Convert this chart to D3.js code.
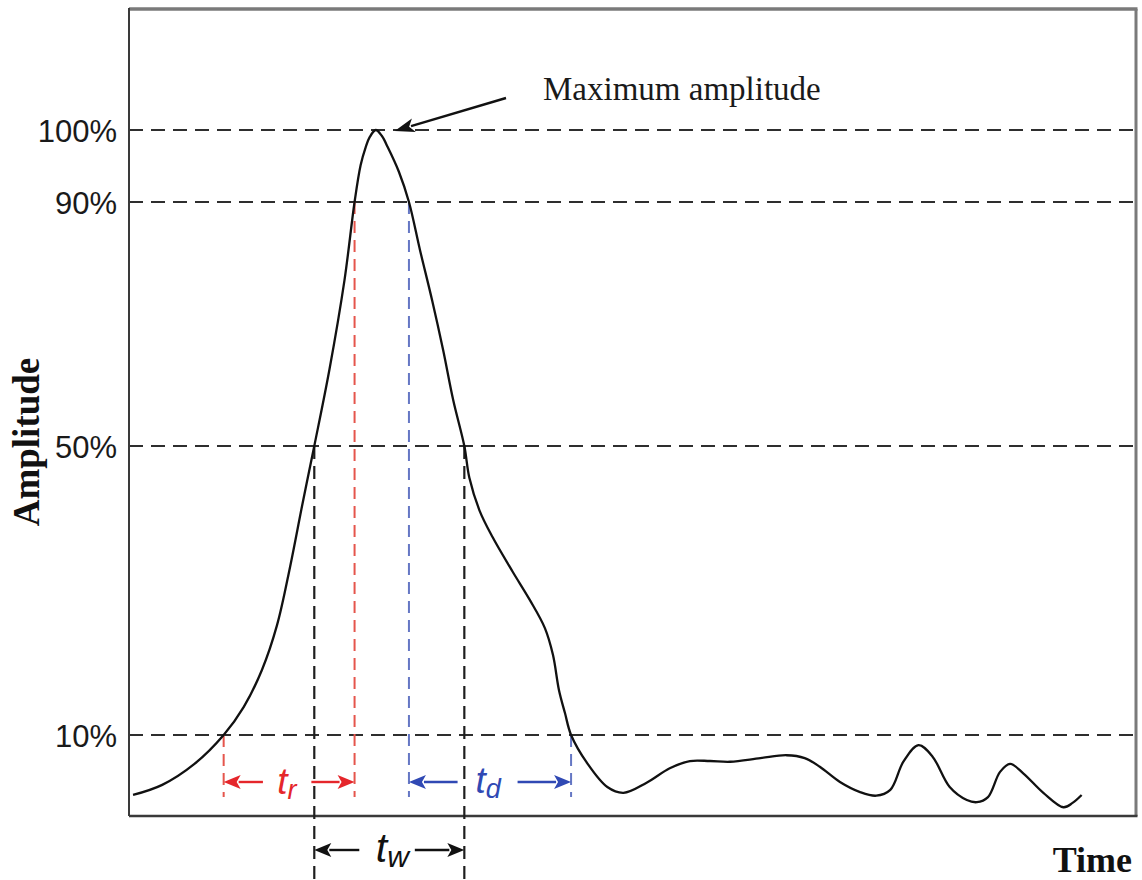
<!DOCTYPE html>
<html>
<head>
<meta charset="utf-8">
<script src="https://cdn.jsdelivr.net/npm/d3@7"></script>
<style>
  html, body { margin: 0; padding: 0; background: #ffffff; }
  svg { display: block; }
</style>
</head>
<body>
<div id="chart"></div>
<script>
// Pulse waveform: time (arbitrary units) and amplitude (% of maximum)
const time = [
  0.4, 3.3, 6.5, 9.4, 11.4, 13.2, 14.7, 16.0, 17.2, 18.4,
  19.9, 21.4, 22.4, 23.0, 23.5, 23.9, 24.5, 25.1, 25.7, 26.8,
  27.8, 28.9, 30.1, 31.2, 32.2, 33.3, 33.8, 34.8, 36.1, 38.1,
  39.8, 41.3, 42.1, 42.7, 43.3, 43.9, 45.5, 47.5, 49.1, 51.4,
  53.7, 55.7, 57.7, 59.7, 62.7, 65.3, 67.1, 68.6, 70.6, 72.6,
  74.2, 75.6, 76.9, 78.4, 79.8, 81.5, 83.2, 84.2, 85.3, 86.5,
  87.5, 88.8, 90.8, 92.8, 93.7, 94.6
];
const amplitude = [
  1.7, 3.1, 6.0, 10, 13.9, 19.0, 25.2, 33.3, 41.8, 50,
  62.5, 77.2, 90, 95.1, 97.6, 99.0, 100, 99.2, 97.6, 94.2,
  90, 82.1, 73.9, 65.7, 57.5, 50, 45.6, 41.1, 37.4, 32.6,
  28.7, 24.8, 21.1, 16.2, 13.0, 10, 6.1, 2.8, 2.0, 3.4,
  5.4, 6.4, 6.4, 6.3, 6.8, 7.2, 6.8, 5.6, 3.5, 2.1,
  1.6, 2.4, 6.3, 8.6, 7.0, 2.8, 1.0, 0.7, 1.4, 4.9,
  6.0, 4.7, 2.0, 0.0, 0.6, 1.7
];

// Reference levels drawn as dashed guides
const levels = [100, 90, 50, 10];
const levelLabels = ["100%", "90%", "50%", "10%"];

// Levels that define rise time, decay time and pulse width
const riseLevels = [10, 90];
const decayLevels = [90, 10];
const widthLevel = 50;

const W = 1142, H = 880;
const frame = { left: 129, right: 1136, top: 9, bottom: 816 };

const svg = d3.select("#chart").append("svg")
  .attr("width", W).attr("height", H);

const x = d3.scaleLinear().domain([0, 100]).range([frame.left, frame.right]);
// The amplitude axis of this schematic is not evenly spaced between the marked levels
const y = d3.scaleLinear().domain([10, 50, 90, 100]).range([735, 446, 202, 130]);

const pts = time.map((t, i) => ({ t, a: amplitude[i] }));

// Time where the waveform crosses a level on its rising or falling edge
function crossTime(level, rising) {
  for (let i = 0; i < pts.length - 1; i++) {
    const p0 = pts[i], p1 = pts[i + 1];
    if (rising && p0.a <= level && p1.a >= level && p1.a > p0.a)
      return p0.t + (level - p0.a) / (p1.a - p0.a) * (p1.t - p0.t);
    if (!rising && p0.a >= level && p1.a <= level && p0.a > p1.a)
      return p0.t + (p0.a - level) / (p0.a - p1.a) * (p1.t - p0.t);
  }
  return null;
}

const sans = "'Liberation Sans', Arial, Helvetica, sans-serif";
const serif = "'Liberation Serif', 'Times New Roman', Times, serif";
const red = "#e5262b", redLight = "#e5554c";
const blue = "#3049b4", blueLight = "#6577c4";

// Dashed level guides
svg.append("g").selectAll("line").data(levels).join("line")
  .attr("x1", frame.left).attr("x2", frame.right)
  .attr("y1", d => y(d)).attr("y2", d => y(d))
  .attr("stroke", "#2e2e2e").attr("stroke-width", 2.2)
  .attr("stroke-dasharray", "14,8");

// Level labels
const yAxis = d3.axisLeft(y).tickValues(levels)
  .tickFormat(d => levelLabels[levels.indexOf(d)])
  .tickSize(0).tickPadding(12);
const ag = svg.append("g").attr("transform", `translate(${frame.left},0)`).call(yAxis);
ag.select(".domain").remove();
ag.selectAll("text")
  .attr("font-family", sans).attr("font-size", 31).attr("fill", "#1a1a1a")
  .attr("dy", "0.36em");

// Frame
svg.append("line").attr("x1", frame.left).attr("x2", frame.right + 1.5)
  .attr("y1", frame.top).attr("y2", frame.top)
  .attr("stroke", "#7a7a7a").attr("stroke-width", 3.5);
svg.append("line").attr("x1", frame.right).attr("x2", frame.right)
  .attr("y1", frame.top).attr("y2", frame.bottom)
  .attr("stroke", "#7a7a7a").attr("stroke-width", 3);
svg.append("line").attr("x1", frame.left).attr("x2", frame.left)
  .attr("y1", frame.top - 1).attr("y2", frame.bottom)
  .attr("stroke", "#3a3a3a").attr("stroke-width", 2);
svg.append("line").attr("x1", frame.left).attr("x2", frame.right + 1.5)
  .attr("y1", frame.bottom).attr("y2", frame.bottom)
  .attr("stroke", "#3a3a3a").attr("stroke-width", 2.4);

// Crossing times
const tr0 = crossTime(riseLevels[0], true), tr1 = crossTime(riseLevels[1], true);
const td0 = crossTime(decayLevels[0], false), td1 = crossTime(decayLevels[1], false);
const tw0 = crossTime(widthLevel, true), tw1 = crossTime(widthLevel, false);

const markRowY = 782, markEndY = 797, widthRowY = 850;

function vDash(t, level, yEnd, color, sw, dash) {
  svg.append("line")
    .attr("x1", x(t)).attr("x2", x(t))
    .attr("y1", y(level)).attr("y2", yEnd)
    .attr("stroke", color).attr("stroke-width", sw)
    .attr("stroke-dasharray", dash);
}

// Vertical drop lines
vDash(tw0, widthLevel, H, "#1e1e1e", 2.2, "13,7");
vDash(tw1, widthLevel, H, "#1e1e1e", 2.2, "13,7");
vDash(tr0, riseLevels[0], markEndY, redLight, 2, "12,7");
vDash(tr1, riseLevels[1], markEndY, redLight, 2, "12,7");
vDash(td0, decayLevels[0], markEndY, blueLight, 2, "12,7");
vDash(td1, decayLevels[1], markEndY, blueLight, 2, "12,7");

// Horizontal arrow from tail to tip with a filled head
function hArrow(xTail, xTip, yy, color) {
  const dir = xTip > xTail ? 1 : -1;
  const len = 17, half = 7;
  svg.append("line")
    .attr("x1", xTail).attr("x2", xTip - dir * (len - 2))
    .attr("y1", yy).attr("y2", yy)
    .attr("stroke", color).attr("stroke-width", 2.4);
  svg.append("path")
    .attr("d", `M${xTip},${yy} L${xTip - dir * len},${yy - half} L${xTip - dir * (len - 4)},${yy} L${xTip - dir * len},${yy + half} Z`)
    .attr("fill", color);
}

// Interval marker: two arrows pointing outward with a subscripted label between
function interval(t0, t1, yy, color, base, sub, size, subSize, dyText) {
  const x0 = x(t0), x1 = x(t1), span = x1 - x0;
  hArrow(x0 + 0.30 * span, x0, yy, color);
  hArrow(x0 + 0.67 * span, x1, yy, color);
  const txt = svg.append("text")
    .attr("x", x0 + 0.41 * span).attr("y", yy + dyText)
    .attr("font-family", sans).attr("font-style", "italic")
    .attr("font-size", size).attr("fill", color);
  txt.append("tspan").text(base);
  txt.append("tspan").attr("font-size", subSize).attr("dy", 5).text(sub);
}

interval(tr0, tr1, markRowY, red, "t", "r", 37, 27, 12);
interval(td0, td1, markRowY, blue, "t", "d", 37, 27, 11);
interval(tw0, tw1, widthRowY, "#111111", "t", "w", 41, 30, 12);

// Waveform
const line = d3.line()
  .x(d => x(d.t)).y(d => y(d.a))
  .curve(d3.curveCatmullRom.alpha(0.5));
svg.append("path").datum(pts)
  .attr("d", line)
  .attr("fill", "none").attr("stroke", "#111111").attr("stroke-width", 2.3);

// Maximum amplitude callout
const peak = pts.reduce((m, p) => p.a > m.a ? p : m, pts[0]);
const tipX = x(peak.t) + 19, tipY = y(peak.a) + 1;
const tailX = 506, tailY = 98;
{
  const dx = tipX - tailX, dy = tipY - tailY, L = Math.hypot(dx, dy);
  const ux = dx / L, uy = dy / L, px = -uy, py = ux;
  const len = 20, half = 7;
  const bx = tipX - ux * len, by = tipY - uy * len;
  svg.append("line")
    .attr("x1", tailX).attr("y1", tailY)
    .attr("x2", tipX - ux * (len - 3)).attr("y2", tipY - uy * (len - 3))
    .attr("stroke", "#111").attr("stroke-width", 2.4);
  svg.append("path")
    .attr("d", `M${tipX},${tipY} L${bx + px * half},${by + py * half} L${tipX - ux * (len - 5)},${tipY - uy * (len - 5)} L${bx - px * half},${by - py * half} Z`)
    .attr("fill", "#111");
}
svg.append("text")
  .attr("x", 543).attr("y", 100)
  .attr("font-family", serif).attr("font-size", 33).attr("fill", "#1a1a1a")
  .text("Maximum amplitude");

// Axis titles
svg.append("text")
  .attr("transform", "translate(39,442) rotate(-90)")
  .attr("text-anchor", "middle")
  .attr("font-family", serif).attr("font-weight", "bold")
  .attr("font-size", 37).attr("fill", "#111")
  .text("Amplitude");
svg.append("text")
  .attr("x", 1132).attr("y", 872)
  .attr("text-anchor", "end")
  .attr("font-family", serif).attr("font-weight", "bold")
  .attr("font-size", 36).attr("fill", "#111")
  .text("Time");
</script>
</body>
</html>
